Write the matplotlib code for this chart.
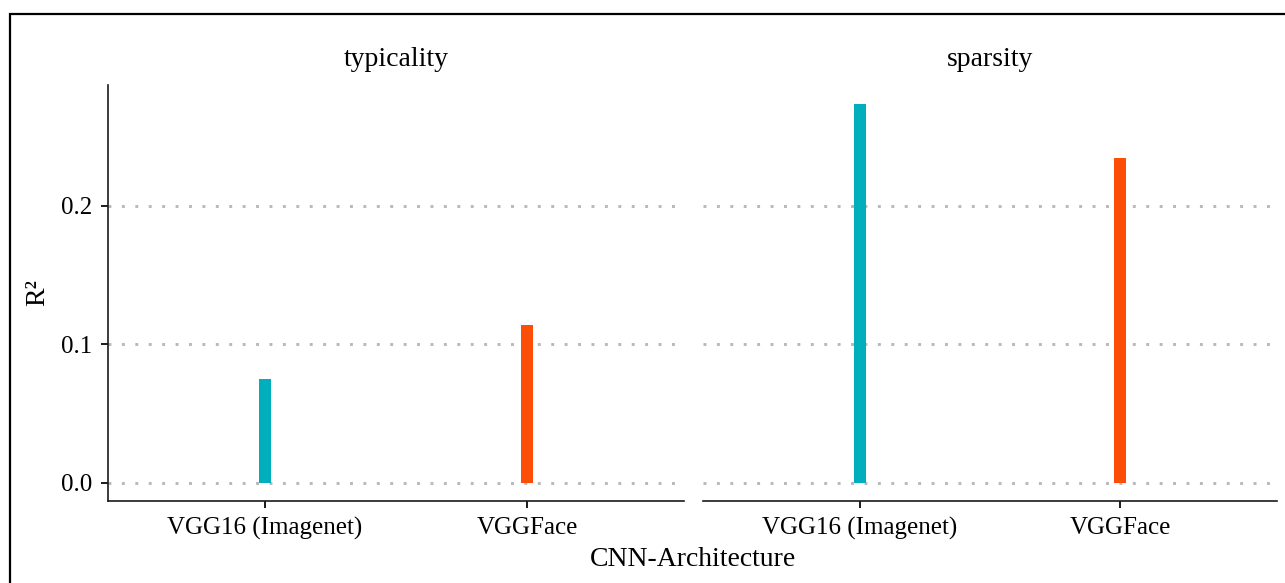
import numpy as np
import matplotlib.pyplot as plt
from matplotlib.patches import Rectangle

plt.rcParams['font.family'] = ['Liberation Serif', 'DejaVu Serif']

# R^2 per CNN architecture, one panel per measure
panels = ['typicality', 'sparsity']
architectures = ['VGG16 (Imagenet)', 'VGGFace']
r2_typicality = [0.075, 0.114]
r2_sparsity = [0.274, 0.235]
r2_values = [r2_typicality, r2_sparsity]
bar_colors = ['#00AFBB', '#FC4E07']
y_ticks = [0.0, 0.1, 0.2]

W, H = 1285, 583
fig = plt.figure(figsize=(W / 100, H / 100), dpi=100)

# panel extents in pixels (left, right)
panel_px = [(108, 684), (703, 1277)]
top_px, bot_px = 85, 501

for i, (name, vals) in enumerate(zip(panels, r2_values)):
    x0, x1 = panel_px[i]
    ax = fig.add_axes([x0 / W, 1 - bot_px / H, (x1 - x0) / W, (bot_px - top_px) / H])
    xs = np.arange(1, len(architectures) + 1)

    for y in y_ticks:
        ax.axhline(y, color='#b8b8b8', lw=2.1, ls=(0, (1.0, 3.6)), zorder=0)
    ax.bar(xs, vals, width=0.046, color=bar_colors, zorder=2)

    ax.set_xlim(0.4, 2.6)
    ax.set_ylim(-0.0131, 0.2874)
    ax.set_xticks(xs)
    ax.set_xticklabels(architectures, fontsize=18)
    ax.tick_params(axis='x', length=5, width=1.4, pad=6.5, color='#1a1a1a')

    for s in ['top', 'right']:
        ax.spines[s].set_visible(False)
    ax.spines['bottom'].set_linewidth(1.2)
    ax.spines['bottom'].set_color('#1a1a1a')

    if i == 0:
        ax.set_yticks(y_ticks)
        ax.set_yticklabels(['%.1f' % v for v in y_ticks], fontsize=18)
        ax.tick_params(axis='y', length=5, width=1.4, pad=6, color='#1a1a1a')
        ax.spines['left'].set_linewidth(1.2)
        ax.spines['left'].set_color('#1a1a1a')
    else:
        ax.set_yticks([])
        ax.spines['left'].set_visible(False)

    fig.text((x0 + x1) / 2 / W, 1 - 59 / H, name, ha='center', va='center', fontsize=20)

fig.text(693 / W, 1 - 559 / H, 'CNN-Architecture', ha='center', va='center', fontsize=20)
fig.text(38 / W, 1 - 293 / H, 'R²', ha='center', va='center', rotation=90, fontsize=20)

# outer frame, only its top and left edges fall inside the canvas
fig.patches.append(Rectangle((9.5 / W, -0.5), 2, 1 - 13.5 / H + 0.5, transform=fig.transFigure,
                             fill=False, edgecolor='black', lw=1.6, clip_on=False))

fig.savefig('out.png', dpi=100)
